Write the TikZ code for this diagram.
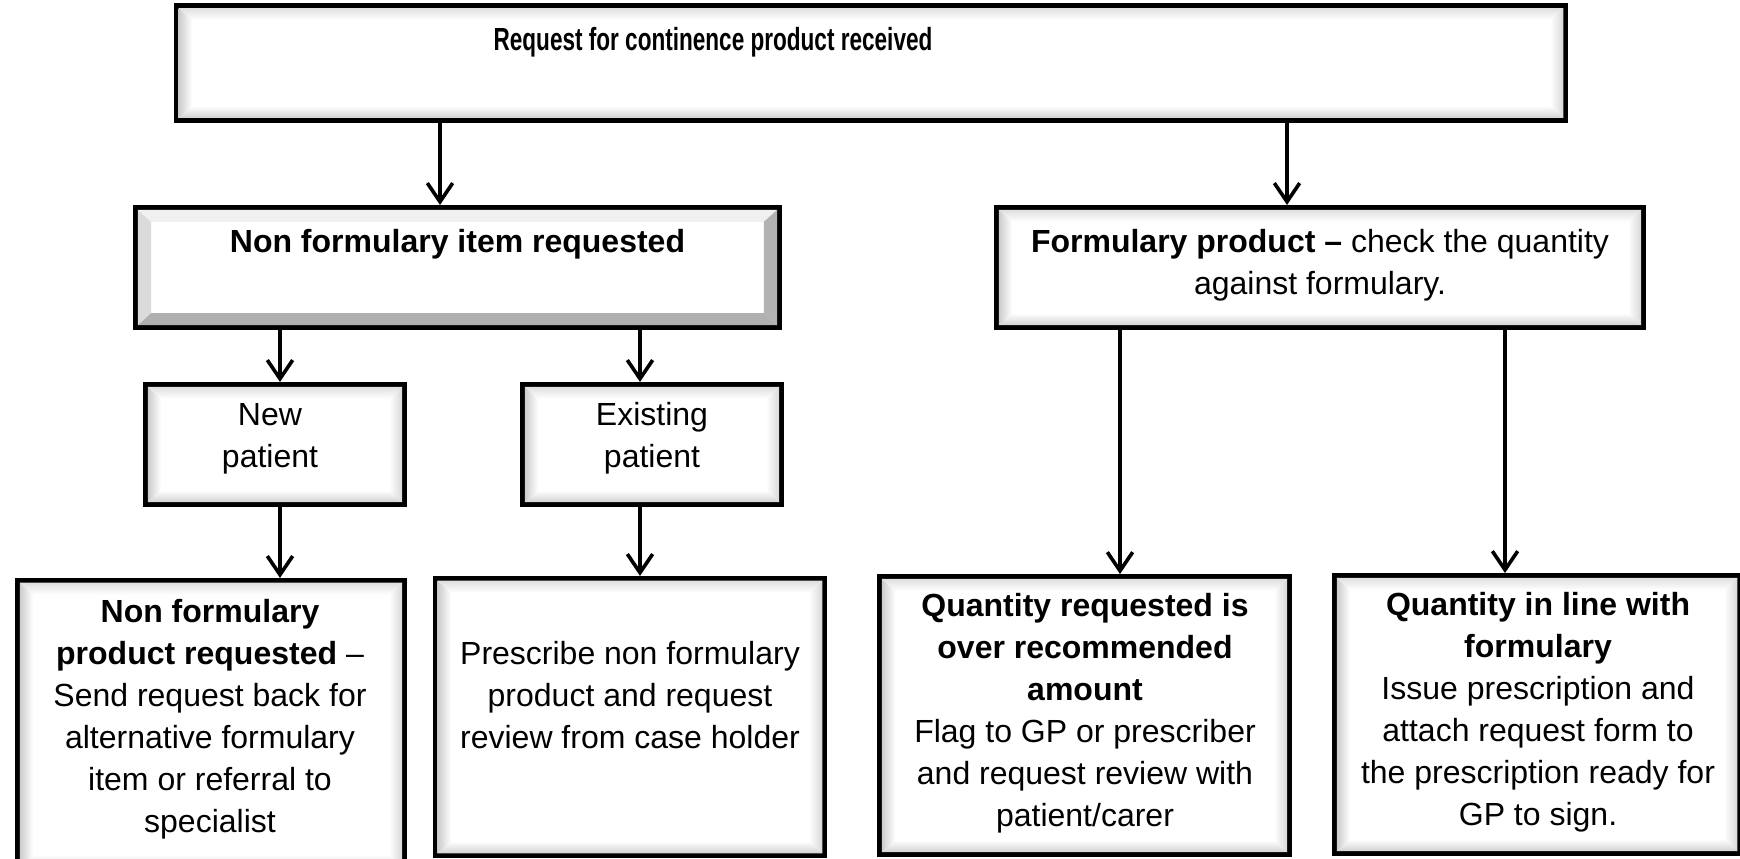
\documentclass[tikz,border=0pt]{standalone}
\usepackage{fontspec}
\setmainfont{Liberation Sans}
\usetikzlibrary{calc, arrows.meta}

\tikzset{
  box/.style={draw, fill=white, line width=1.8pt, inner sep=0pt},
  txt/.style={align=center, inner sep=0pt, font=\fontsize{12}{15.75}\selectfont},
  arr/.style={line width=1.35pt, -{Straight Barb[length=7pt, width=9.5pt]}},
  softL/.style={left color=gray!40, right color=white},
  softT/.style={top color=gray!25, bottom color=white},
  softR/.style={right color=gray!30, left color=white},
  softB/.style={bottom color=gray!35, top color=white},
}

% bevel frame inside a box: node, left, top, right, bottom
\newcommand{\bevel}[5]{%
  \coordinate (bA) at ($(#1.north west)+(1.8pt,-1.8pt)$);
  \coordinate (bB) at ($(#1.north east)+(-1.8pt,-1.8pt)$);
  \coordinate (bC) at ($(#1.south east)+(-1.8pt,1.8pt)$);
  \coordinate (bD) at ($(#1.south west)+(1.8pt,1.8pt)$);
  \coordinate (ba) at ($(bA)+(5pt,-4.5pt)$);
  \coordinate (bb) at ($(bB)+(-5pt,-4.5pt)$);
  \coordinate (bc) at ($(bC)+(-5pt,4.5pt)$);
  \coordinate (bd) at ($(bD)+(5pt,4.5pt)$);
  \path[#2] (bA) -- (ba) -- (bd) -- (bD) -- cycle;
  \path[#3] (bA) -- (bB) -- (bb) -- (ba) -- cycle;
  \path[#4] (bB) -- (bC) -- (bc) -- (bb) -- cycle;
  \path[#5] (bD) -- (bC) -- (bc) -- (bd) -- cycle;
}

\begin{document}
\begin{tikzpicture}[x=0.375pt, y=-0.375pt]
\useasboundingbox (0,0) rectangle (1740,859);

\draw (871,63)      node[box, minimum width=521pt, minimum height=43pt](req){}
      (457.5,267.5) node[box, minimum width=241.6pt, minimum height=45.1pt](nfi){}
      (1320,267.5)  node[box, minimum width=242.7pt, minimum height=45.1pt](form){};
\draw (275,444.5)   node[box, minimum width=97.2pt, minimum height=45.1pt](newp){}
      (652,444.5)   node[box, minimum width=97.2pt, minimum height=45.1pt](exist){};
\draw (211,725)     node[box, minimum width=145.2pt, minimum height=108.5pt](nfprod){}
      (630,717)     node[box, minimum width=146pt, minimum height=104pt](presc){}
      (1084.5,715.5) node[box, minimum width=153.8pt, minimum height=104.3pt](over){}
      (1537,714.5)  node[box, minimum width=152pt, minimum height=104.3pt](inline){};

\bevel{req}{softL}{softT}{softR}{softB}
\bevel{nfi}{fill=gray!28}{fill=gray!12}{fill=gray!60}{fill=gray!62}
\bevel{form}{softL}{softT}{softR}{softB}
\bevel{newp}{softL}{softT}{softR}{softB}
\bevel{exist}{softL}{softT}{softR}{softB}
\bevel{nfprod}{softL}{softT}{softR}{softB}
\bevel{presc}{softL}{softT}{softR}{softB}
\bevel{over}{softL}{softT}{softR}{softB}
\bevel{inline}{softL}{softT}{softR}{softB}

\node[txt] (reqt) at (713,42) {\scalebox{0.705}[1]{\textbf{Request for continence product received}}};
\node[txt] (nfit) at (457.5,244) {\textbf{Non formulary item requested}};
\node[txt] (formt) at (1320,265) {\textbf{Formulary product –} check the quantity\\against formulary.};
\node[txt] (newpt) at (270,438.5) {New\\patient};
\node[txt] (existt) at (652,438.5) {Existing\\patient};
\node[txt] (nfprodt) at (210,719) {\textbf{Non formulary}\\\textbf{product requested} –\\Send request back for\\alternative formulary\\item or referral to\\specialist};
\node[txt] (psct) at (630,695) {Prescribe non formulary\\product and request\\review from case holder};
\node[txt] (overt) at (1085,713.5) {\textbf{Quantity requested is}\\\textbf{over recommended}\\\textbf{amount}\\Flag to GP or prescriber\\and request review with\\patient/carer};
\node[txt] (inlinet) at (1538,712) {\textbf{Quantity in line with}\\\textbf{formulary}\\Issue prescription and\\attach request form to\\the prescription ready for\\GP to sign.};

\draw[arr] (req.south -| 440,0) -- (nfi.north -| 440,0);
\draw[arr] (req.south -| 1287,0) -- (form.north -| 1287,0);
\draw[arr] (nfi.south -| 280,0) -- (newp.north -| 280,0);
\draw[arr] (nfi.south -| 640,0) -- (exist.north -| 640,0);
\draw[arr] (newp.south -| 280,0) -- (nfprod.north -| 280,0);
\draw[arr] (exist.south -| 640,0) -- (presc.north -| 640,0);
\draw[arr] (form.south -| 1120,0) -- (over.north -| 1120,0);
\draw[arr] (form.south -| 1505,0) -- (inline.north -| 1505,0);
\end{tikzpicture}
\end{document}
